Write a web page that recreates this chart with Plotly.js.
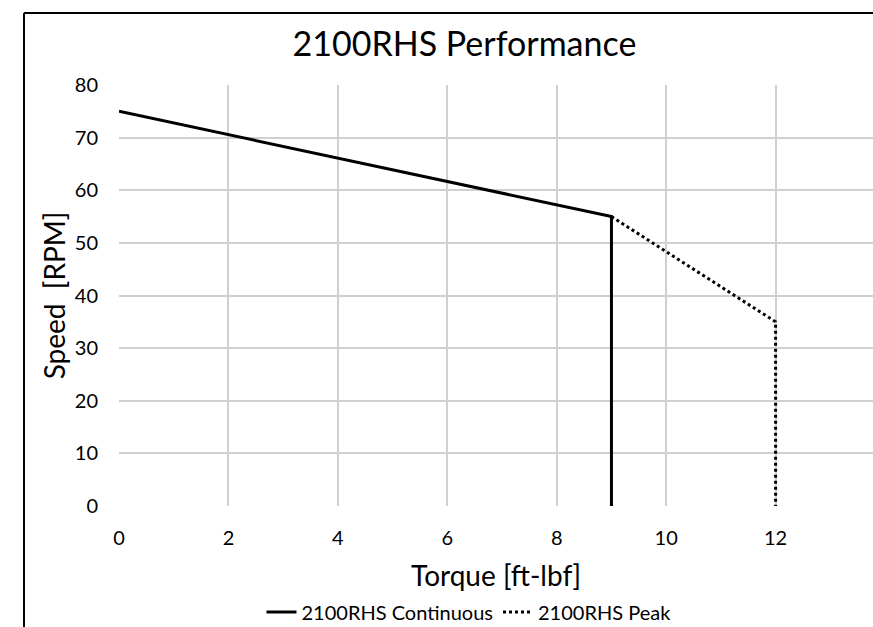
<!DOCTYPE html>
<html>
<head>
<meta charset="utf-8">
<script src="https://cdn.plot.ly/plotly-3.0.1.min.js"></script>
<style>
  html, body { margin: 0; padding: 0; background: #ffffff; overflow: hidden; }
  #chart { width: 873px; height: 627px; }
</style>
</head>
<body>
<div id="chart"></div>
<script>
// Data
const continuousTorque = [0, 9, 9];
const continuousSpeed  = [75, 55, 0];
const peakTorque = [9, 12, 12];
const peakSpeed  = [55, 35, 0];
const xTickValues = [0, 2, 4, 6, 8, 10, 12];
const yTickValues = [0, 10, 20, 30, 40, 50, 60, 70, 80];

const FONT = 'Lato, "Open Sans", sans-serif';

const traces = [
  {
    x: continuousTorque, y: continuousSpeed,
    type: 'scatter', mode: 'lines',
    name: '2100RHS Continuous',
    line: { color: '#000000', width: 3 }
  },
  {
    x: peakTorque, y: peakSpeed,
    type: 'scatter', mode: 'lines',
    name: '2100RHS Peak',
    line: { color: '#000000', width: 3, dash: 'dot' }
  }
];

const layout = {
  width: 873, height: 627,
  margin: { l: 119, r: 0, t: 85, b: 121, autoexpand: false },
  paper_bgcolor: '#ffffff',
  plot_bgcolor: '#ffffff',
  font: { family: FONT, color: '#000000' },
  showlegend: true,
  title: {
    text: '2100RHS Performance',
    font: { family: FONT, size: 34, color: '#000000' },
    xref: 'container', yref: 'container',
    x: 0.532, xanchor: 'center',
    y: 1 - 44 / 627, yanchor: 'middle'
  },
  xaxis: {
    range: [0, 13.78],
    tickvals: xTickValues,
    ticktext: xTickValues.map(String),
    showgrid: true, gridcolor: '#d0d0d0', gridwidth: 2,
    zeroline: false, showline: false,
    ticks: '', ticklabelstandoff: 18,
    tickfont: { family: FONT, size: 20, color: '#000000' },
    title: {
      text: 'Torque [ft-lbf]',
      font: { family: FONT, size: 28, color: '#000000' },
      standoff: 19
    },
    fixedrange: true
  },
  yaxis: {
    range: [0, 80],
    tickvals: yTickValues,
    ticktext: yTickValues.map(String),
    showgrid: true, gridcolor: '#d0d0d0', gridwidth: 2,
    zeroline: false, showline: false,
    ticks: '', ticklabelstandoff: 20,
    tickfont: { family: FONT, size: 20, color: '#000000' },
    title: {
      text: 'Speed  [RPM]',
      font: { family: FONT, size: 28, color: '#000000' },
      standoff: 0
    },
    fixedrange: true
  },
  legend: {
    orientation: 'h',
    xref: 'container', yref: 'container',
    x: 469 / 873, xanchor: 'center',
    y: (627 - 612) / 627, yanchor: 'middle',
    font: { family: FONT, size: 20, color: '#000000' },
    bgcolor: 'rgba(0,0,0,0)',
    itemwidth: 30
  },
  shapes: [
    { type: 'line', xref: 'paper', yref: 'paper',
      x0: (24 - 119) / 754, x1: (24 - 119) / 754,
      y0: (506 - 13) / 421, y1: (506 - 700) / 421,
      line: { color: '#000000', width: 2 } },
    { type: 'line', xref: 'paper', yref: 'paper',
      x0: (24 - 119) / 754, x1: 1.0,
      y0: (506 - 13) / 421, y1: (506 - 13) / 421,
      line: { color: '#000000', width: 2 } }
  ]
};

Plotly.newPlot('chart', traces, layout, { displayModeBar: false, staticPlot: true });
</script>
</body>
</html>
